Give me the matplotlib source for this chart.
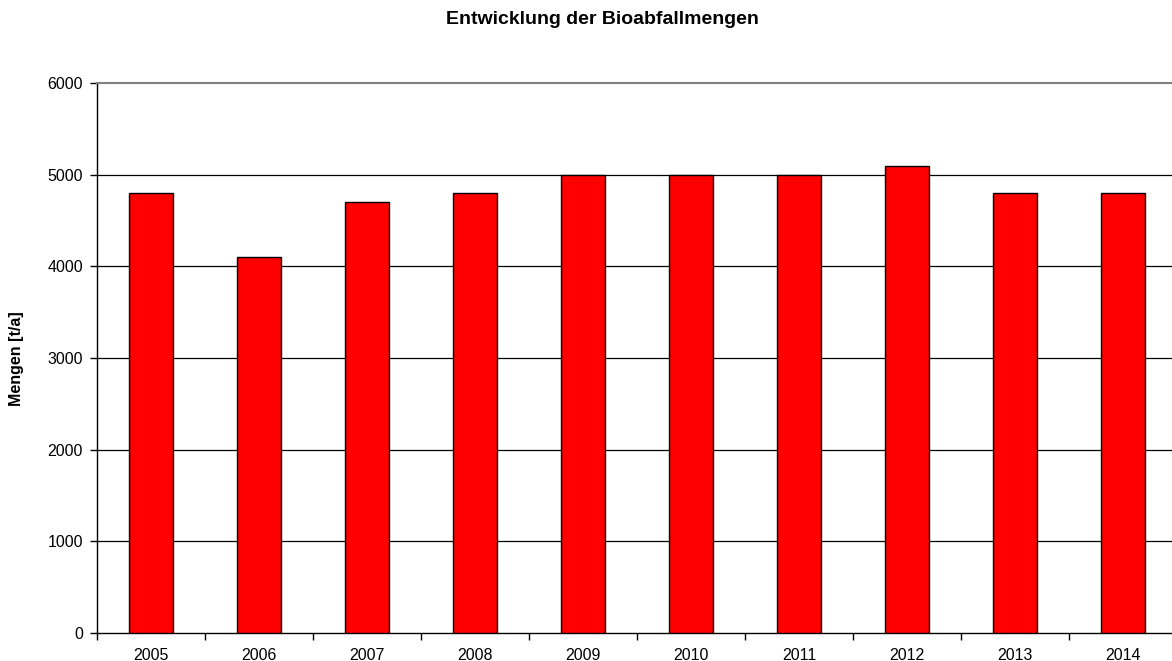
import numpy as np
import matplotlib.pyplot as plt

plt.rcParams['font.family'] = ['Liberation Sans', 'DejaVu Sans']

years = ['2005', '2006', '2007', '2008', '2009', '2010', '2011', '2012', '2013', '2014']
mengen = [4800, 4100, 4700, 4800, 5000, 5000, 5000, 5100, 4800, 4800]

fig = plt.figure(figsize=(11.72, 6.61), dpi=100)
# plot area runs slightly past the right edge, like the original export
ax = fig.add_axes([97 / 1172, 1 - 633 / 661, 1080 / 1172, 550 / 661])

x = np.arange(len(years))
ax.bar(x, mengen, width=0.41, color='#ff0000', edgecolor='black', linewidth=1, zorder=3)

ax.set_xlim(-0.5, len(years) - 0.5)
ax.set_ylim(0, 6000)
ax.set_yticks(range(0, 6001, 1000))
ax.set_xticks(x)
ax.set_xticklabels(years)
ax.set_xticks(np.arange(-0.5, len(years), 1), minor=True)
ax.tick_params(axis='x', which='major', length=0, pad=11, labelsize=11.5)
ax.tick_params(axis='x', which='minor', length=5, direction='out', width=1)
ax.tick_params(axis='y', length=5, direction='out', width=1, labelsize=11.5, pad=5)

for v in range(1000, 6000, 1000):
    ax.axhline(v, color='black', linewidth=0.9, zorder=1)

ax.spines['top'].set_color('#808080')
ax.spines['top'].set_linewidth(1.5)
ax.spines['right'].set_visible(False)
ax.spines['left'].set_linewidth(1)
ax.spines['bottom'].set_linewidth(1)

fig.text(17 / 1172, 1 - 359 / 661, 'Mengen [t/a]', fontsize=11.5, fontweight='bold',
         rotation=90, ha='center', va='center')
fig.text(602 / 1172, 1 - 19 / 661, 'Entwicklung der Bioabfallmengen', fontsize=14,
         fontweight='bold', ha='center', va='center')

fig.savefig('out.png', dpi=100)
